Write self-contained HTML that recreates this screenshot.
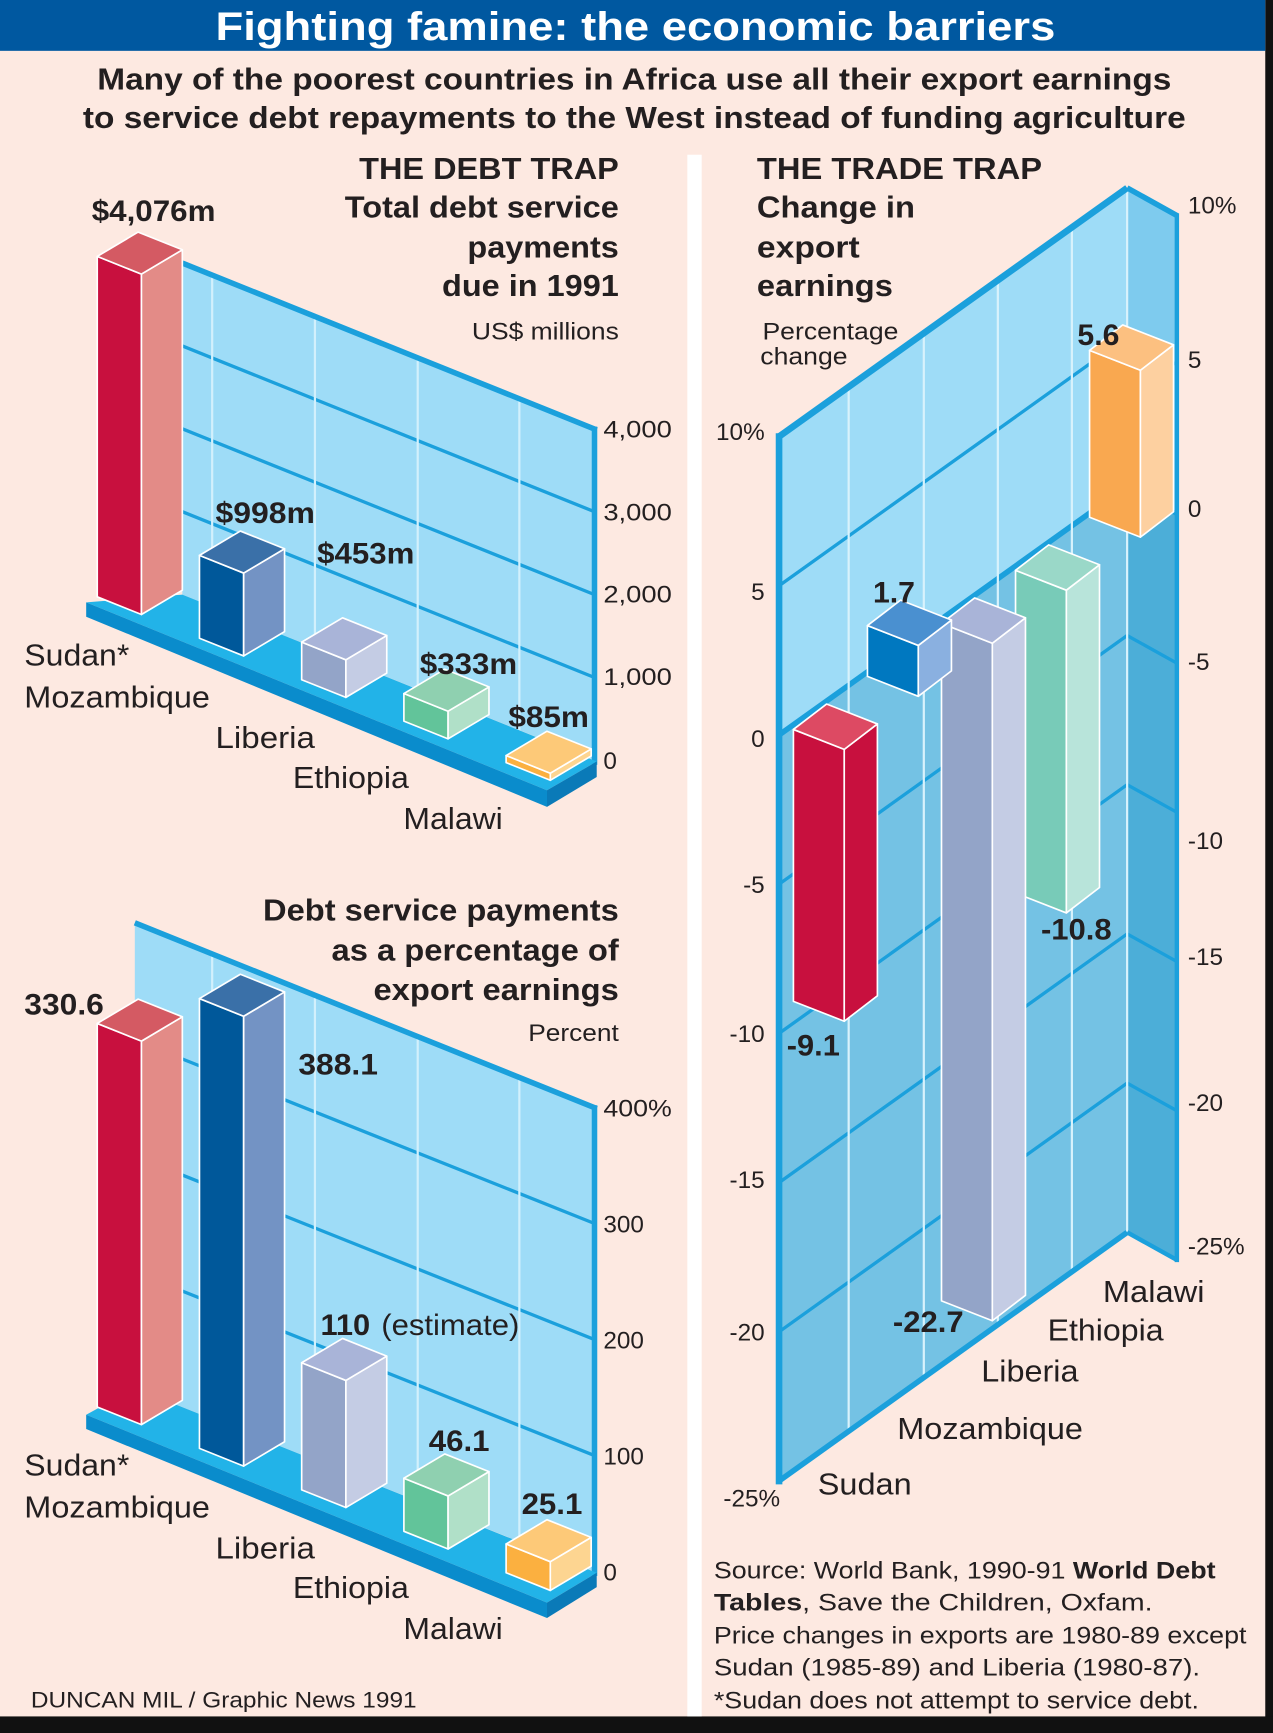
<!DOCTYPE html>
<html><head><meta charset="utf-8"><style>
html,body{margin:0;padding:0;background:#fde9e1;}
svg{display:block;}
text{font-family:"Liberation Sans",Arial,sans-serif;fill:#231f20;}
.b{font-weight:bold;}
</style></head><body>
<svg width="1273" height="1733" viewBox="0 0 1152 1568" preserveAspectRatio="none" xmlns="http://www.w3.org/2000/svg">
<rect x="0" y="0" width="1152" height="1568" fill="#fde9e1"/>
<!-- frame -->
<rect x="1145" y="0" width="7" height="1568" fill="#111"/>
<rect x="0" y="1553" width="1152" height="15" fill="#111"/>
<rect x="0" y="0" width="1145" height="46" fill="#0058a0"/>
<text x="575" y="36" text-anchor="middle" class="b" font-size="36" style="fill:#fff" textLength="760" lengthAdjust="spacingAndGlyphs">Fighting famine: the economic barriers</text>
<text x="88" y="81" class="b" font-size="28" textLength="972" lengthAdjust="spacingAndGlyphs">Many of the poorest countries in Africa use all their export earnings</text>
<text x="75" y="116" class="b" font-size="28" textLength="998" lengthAdjust="spacingAndGlyphs">to service debt repayments to the West instead of funding agriculture</text>
<rect x="622" y="140" width="13" height="1413" fill="#fff"/>

<!-- ===== DEBT TRAP chart ===== -->
<polygon points="165,238 538,388 538,688 165,538" fill="#9edcf7"/>
<g stroke="#1ba0dc" stroke-width="3">
<line x1="165" y1="313" x2="538" y2="463"/>
<line x1="165" y1="388" x2="538" y2="538"/>
<line x1="165" y1="463" x2="538" y2="613"/>
</g>
<g stroke="#d2f0fc" stroke-width="2">
<line x1="192" y1="249" x2="192" y2="549"/>
<line x1="285" y1="286" x2="285" y2="586"/>
<line x1="378" y1="324" x2="378" y2="624"/>
<line x1="470" y1="361" x2="470" y2="661"/>
</g>
<line x1="165" y1="238" x2="540" y2="389" stroke="#1ba0dc" stroke-width="5"/>
<line x1="538" y1="386" x2="538" y2="692" stroke="#1ba0dc" stroke-width="5"/>
<polygon points="165,538 540,689 495,715 78,545" fill="#22b3e8"/>
<polygon points="78,545 495,715 495,730 78,558" fill="#0a8ccc"/>
<polygon points="495,715 540,689 540,703 495,730" fill="#0a7ab8"/>
<g stroke="#fff" stroke-width="1.5" stroke-linejoin="round">
<polygon points="88,232 128,248 128,556 88,540" fill="#c8103e"/>
<polygon points="128,248 165,226 165,534 128,556" fill="#e38b87"/>
<polygon points="88,232 128,248 165,226 125,210" fill="#d45a63"/>
<polygon points="180.5,502.5 220.5,518.5 220.5,593.5 180.5,577.5" fill="#00589a"/>
<polygon points="220.5,518.5 257.5,496.5 257.5,571.5 220.5,593.5" fill="#7393c4"/>
<polygon points="180.5,502.5 220.5,518.5 257.5,496.5 217.5,480.5" fill="#3a70a8"/>
<polygon points="273,581 313,597 313,631 273,615" fill="#93a4c8"/>
<polygon points="313,597 350,575 350,609 313,631" fill="#c4cce4"/>
<polygon points="273,581 313,597 350,575 310,559" fill="#a9b4d8"/>
<polygon points="365.5,627.5 405.5,643.5 405.5,668.5 365.5,652.5" fill="#62c49a"/>
<polygon points="405.5,643.5 442.5,621.5 442.5,646.5 405.5,668.5" fill="#b0e0c8"/>
<polygon points="365.5,627.5 405.5,643.5 442.5,621.5 402.5,605.5" fill="#8fd0b0"/>
<polygon points="458,683.6 498,699.6 498,706 458,690" fill="#fbb040"/>
<polygon points="498,699.6 535,677.6 535,684 498,706" fill="#fdd591"/>
<polygon points="458,683.6 498,699.6 535,677.6 495,661.6" fill="#fdc978"/>
</g>
<g font-size="22">
<text x="546" y="396" textLength="62" lengthAdjust="spacingAndGlyphs">4,000</text>
<text x="546" y="471" textLength="62" lengthAdjust="spacingAndGlyphs">3,000</text>
<text x="546" y="545" textLength="62" lengthAdjust="spacingAndGlyphs">2,000</text>
<text x="546" y="620" textLength="62" lengthAdjust="spacingAndGlyphs">1,000</text>
<text x="546" y="696">0</text>
</g>
<g class="b" font-size="27">
<text x="83" y="200" textLength="112" lengthAdjust="spacingAndGlyphs">$4,076m</text>
<text x="195" y="473" textLength="90" lengthAdjust="spacingAndGlyphs">$998m</text>
<text x="287" y="510" textLength="88" lengthAdjust="spacingAndGlyphs">$453m</text>
<text x="380" y="610" textLength="88" lengthAdjust="spacingAndGlyphs">$333m</text>
<text x="460" y="658" textLength="73" lengthAdjust="spacingAndGlyphs">$85m</text>
</g>
<g font-size="28">
<text x="22" y="602" textLength="95" lengthAdjust="spacingAndGlyphs">Sudan*</text>
<text x="22" y="640" textLength="168" lengthAdjust="spacingAndGlyphs">Mozambique</text>
<text x="195" y="677" textLength="90" lengthAdjust="spacingAndGlyphs">Liberia</text>
<text x="265" y="713" textLength="105" lengthAdjust="spacingAndGlyphs">Ethiopia</text>
<text x="365" y="750" textLength="90" lengthAdjust="spacingAndGlyphs">Malawi</text>
</g>
<g class="b" font-size="28">
<text x="325" y="162" textLength="235" lengthAdjust="spacingAndGlyphs">THE DEBT TRAP</text>
<text x="312" y="197" textLength="248" lengthAdjust="spacingAndGlyphs">Total debt service</text>
<text x="423" y="233" textLength="137" lengthAdjust="spacingAndGlyphs">payments</text>
<text x="400" y="268" textLength="160" lengthAdjust="spacingAndGlyphs">due in 1991</text>
</g>
<text x="427" y="307" font-size="22" textLength="133" lengthAdjust="spacingAndGlyphs">US$ millions</text>

<!-- ===== PERCENT chart ===== -->
<polygon points="122,835 538,1002 538,1422 122,1256" fill="#9edcf7"/>
<g stroke="#1ba0dc" stroke-width="3">
<line x1="122" y1="941" x2="538" y2="1107"/>
<line x1="122" y1="1046" x2="538" y2="1212"/>
<line x1="122" y1="1151" x2="538" y2="1317"/>
</g>
<g stroke="#d2f0fc" stroke-width="2">
<line x1="192" y1="863" x2="192" y2="1284"/>
<line x1="285" y1="900" x2="285" y2="1321"/>
<line x1="378" y1="938" x2="378" y2="1359"/>
<line x1="470" y1="975" x2="470" y2="1396"/>
</g>
<line x1="122" y1="835" x2="540" y2="1003" stroke="#1ba0dc" stroke-width="5"/>
<line x1="538" y1="1000" x2="538" y2="1426" stroke="#1ba0dc" stroke-width="5"/>
<polygon points="122,1256 540,1423 495,1450 78,1280" fill="#22b3e8"/>
<polygon points="78,1280 495,1450 495,1464 78,1293" fill="#0a8ccc"/>
<polygon points="495,1450 540,1423 540,1436 495,1464" fill="#0a7ab8"/>
<g stroke="#fff" stroke-width="1.5" stroke-linejoin="round">
<polygon points="88,926 128,942 128,1289 88,1273" fill="#c8103e"/>
<polygon points="128,942 165,920 165,1267 128,1289" fill="#e38b87"/>
<polygon points="88,926 128,942 165,920 125,904" fill="#d45a63"/>
<polygon points="180.5,903.5 220.5,919.5 220.5,1326.5 180.5,1310.5" fill="#00589a"/>
<polygon points="220.5,919.5 257.5,897.5 257.5,1304.5 220.5,1326.5" fill="#7393c4"/>
<polygon points="180.5,903.5 220.5,919.5 257.5,897.5 217.5,881.5" fill="#3a70a8"/>
<polygon points="273,1233 313,1249 313,1364 273,1348" fill="#93a4c8"/>
<polygon points="313,1249 350,1227 350,1342 313,1364" fill="#c4cce4"/>
<polygon points="273,1233 313,1249 350,1227 310,1211" fill="#a9b4d8"/>
<polygon points="365.5,1337.5 405.5,1353.5 405.5,1401.5 365.5,1385.5" fill="#62c49a"/>
<polygon points="405.5,1353.5 442.5,1331.5 442.5,1379.5 405.5,1401.5" fill="#b0e0c8"/>
<polygon points="365.5,1337.5 405.5,1353.5 442.5,1331.5 402.5,1315.5" fill="#8fd0b0"/>
<polygon points="458,1397 498,1413 498,1439 458,1423" fill="#fbb040"/>
<polygon points="498,1413 535,1391 535,1417 498,1439" fill="#fdd591"/>
<polygon points="458,1397 498,1413 535,1391 495,1375" fill="#fdc978"/>
</g>
<g font-size="22">
<text x="546" y="1010" textLength="62" lengthAdjust="spacingAndGlyphs">400%</text>
<text x="546" y="1115">300</text>
<text x="546" y="1220">200</text>
<text x="546" y="1325">100</text>
<text x="546" y="1430">0</text>
</g>
<g class="b" font-size="27">
<text x="22" y="918" textLength="72" lengthAdjust="spacingAndGlyphs">330.6</text>
<text x="270" y="972" textLength="72" lengthAdjust="spacingAndGlyphs">388.1</text>
<text x="290" y="1208" textLength="45" lengthAdjust="spacingAndGlyphs">110</text>
<text x="388" y="1313" textLength="55" lengthAdjust="spacingAndGlyphs">46.1</text>
<text x="472" y="1370" textLength="55" lengthAdjust="spacingAndGlyphs">25.1</text>
</g>
<text x="345" y="1208" font-size="27" textLength="125" lengthAdjust="spacingAndGlyphs">(estimate)</text>
<g font-size="28">
<text x="22" y="1335" textLength="95" lengthAdjust="spacingAndGlyphs">Sudan*</text>
<text x="22" y="1373" textLength="168" lengthAdjust="spacingAndGlyphs">Mozambique</text>
<text x="195" y="1410" textLength="90" lengthAdjust="spacingAndGlyphs">Liberia</text>
<text x="265" y="1446" textLength="105" lengthAdjust="spacingAndGlyphs">Ethiopia</text>
<text x="365" y="1483" textLength="90" lengthAdjust="spacingAndGlyphs">Malawi</text>
</g>
<g class="b" font-size="28">
<text x="238" y="833" textLength="322" lengthAdjust="spacingAndGlyphs">Debt service payments</text>
<text x="300" y="869" textLength="260" lengthAdjust="spacingAndGlyphs">as a percentage of</text>
<text x="338" y="905" textLength="222" lengthAdjust="spacingAndGlyphs">export earnings</text>
</g>
<text x="478" y="942" font-size="22" textLength="82" lengthAdjust="spacingAndGlyphs">Percent</text>
<text x="28" y="1545" font-size="20" textLength="349" lengthAdjust="spacingAndGlyphs">DUNCAN MIL / Graphic News 1991</text>

<!-- ===== TRADE TRAP chart ===== -->
<polygon points="705,395 1020,170 1020,440 705,665" fill="#9edcf7"/>
<polygon points="705,665 1020,440 1020,1115 705,1340" fill="#74c2e4"/>
<polygon points="1020,170 1065,195 1065,465 1020,440" fill="#7ecbee"/>
<polygon points="1020,440 1065,465 1065,1140 1020,1115" fill="#4caed8"/>
<g stroke="#1ba0dc" stroke-width="3">
<line x1="705" y1="530" x2="1020" y2="305"/>
<line x1="705" y1="800" x2="1020" y2="575"/>
<line x1="705" y1="935" x2="1020" y2="710"/>
<line x1="705" y1="1070" x2="1020" y2="845"/>
<line x1="705" y1="1205" x2="1020" y2="980"/>
<line x1="1020" y1="305" x2="1065" y2="330"/>
<line x1="1020" y1="575" x2="1065" y2="600"/>
<line x1="1020" y1="710" x2="1065" y2="735"/>
<line x1="1020" y1="845" x2="1065" y2="870"/>
<line x1="1020" y1="980" x2="1065" y2="1005"/>
</g>
<line x1="705" y1="665" x2="1020" y2="440" stroke="#1ba0dc" stroke-width="5"/>
<line x1="1020" y1="440" x2="1065" y2="465" stroke="#1ba0dc" stroke-width="4"/>
<g stroke="#d8f2fc" stroke-width="2">
<line x1="768" y1="350" x2="768" y2="1295"/>
<line x1="836" y1="302" x2="836" y2="1247"/>
<line x1="903" y1="254" x2="903" y2="1199"/>
<line x1="970" y1="206" x2="970" y2="1151"/>
<line x1="1020" y1="170" x2="1020" y2="1115"/>
</g>
<line x1="705" y1="392" x2="705" y2="1343" stroke="#1ba0dc" stroke-width="6"/>
<line x1="705" y1="395" x2="1020" y2="170" stroke="#1ba0dc" stroke-width="6"/>
<line x1="1020" y1="170" x2="1065" y2="195" stroke="#1ba0dc" stroke-width="5"/>
<line x1="1065" y1="193" x2="1065" y2="1142" stroke="#1ba0dc" stroke-width="4"/>
<line x1="705" y1="1340" x2="1020" y2="1115" stroke="#1ba0dc" stroke-width="5"/>
<line x1="1020" y1="1115" x2="1065" y2="1140" stroke="#1ba0dc" stroke-width="4"/>
<g stroke="#fff" stroke-width="1.5" stroke-linejoin="round">
<polygon points="986,317 1032,335 1032,486 986,468" fill="#f9a850"/>
<polygon points="1032,335 1062,312 1062,463 1032,486" fill="#fdd0a0"/>
<polygon points="986,317 1032,335 1062,312 1016,294" fill="#fcc080"/>
<polygon points="919,516 965,534 965,826 919,808" fill="#78cbb8"/>
<polygon points="965,534 995,511 995,803 965,826" fill="#b8e4da"/>
<polygon points="919,516 965,534 995,511 949,493" fill="#9ad8c8"/>
<polygon points="852,564 898,582 898,1195 852,1177" fill="#93a4c8"/>
<polygon points="898,582 928,559 928,1172 898,1195" fill="#c4cce4"/>
<polygon points="852,564 898,582 928,559 882,541" fill="#a9b4d8"/>
<polygon points="785,566 831,584 831,630 785,612" fill="#0078c0"/>
<polygon points="831,584 861,561 861,607 831,630" fill="#8ab0e0"/>
<polygon points="785,566 831,584 861,561 815,543" fill="#4a90d0"/>
<polygon points="718,660 764,678 764,924 718,906" fill="#c8103e"/>
<polygon points="764,678 794,655 794,901 764,924" fill="#c8103e"/>
<polygon points="718,660 764,678 794,655 748,637" fill="#dd4a63"/>
</g>
<g font-size="22" text-anchor="end">
<text x="692" y="398">10%</text>
<text x="692" y="543">5</text>
<text x="692" y="676">0</text>
<text x="692" y="808">-5</text>
<text x="692" y="943">-10</text>
<text x="692" y="1075">-15</text>
<text x="692" y="1213">-20</text>
<text x="706" y="1363">-25%</text>
</g>
<g font-size="22">
<text x="1075" y="193">10%</text>
<text x="1075" y="333">5</text>
<text x="1075" y="468">0</text>
<text x="1075" y="606">-5</text>
<text x="1075" y="768">-10</text>
<text x="1075" y="873">-15</text>
<text x="1075" y="1005">-20</text>
<text x="1075" y="1135">-25%</text>
</g>
<g class="b" font-size="27">
<text x="975" y="312" textLength="38" lengthAdjust="spacingAndGlyphs">5.6</text>
<text x="790" y="545" textLength="38" lengthAdjust="spacingAndGlyphs">1.7</text>
<text x="712" y="955" textLength="48" lengthAdjust="spacingAndGlyphs">-9.1</text>
<text x="808" y="1205" textLength="64" lengthAdjust="spacingAndGlyphs">-22.7</text>
<text x="942" y="850" textLength="64" lengthAdjust="spacingAndGlyphs">-10.8</text>
</g>
<g font-size="28">
<text x="998" y="1178" textLength="92" lengthAdjust="spacingAndGlyphs">Malawi</text>
<text x="948" y="1213" textLength="105" lengthAdjust="spacingAndGlyphs">Ethiopia</text>
<text x="888" y="1250" textLength="88" lengthAdjust="spacingAndGlyphs">Liberia</text>
<text x="812" y="1302" textLength="168" lengthAdjust="spacingAndGlyphs">Mozambique</text>
<text x="740" y="1352" textLength="85" lengthAdjust="spacingAndGlyphs">Sudan</text>
</g>
<g class="b" font-size="28">
<text x="685" y="162" textLength="258" lengthAdjust="spacingAndGlyphs">THE TRADE TRAP</text>
<text x="685" y="197" textLength="143" lengthAdjust="spacingAndGlyphs">Change in</text>
<text x="685" y="233" textLength="93" lengthAdjust="spacingAndGlyphs">export</text>
<text x="685" y="268" textLength="123" lengthAdjust="spacingAndGlyphs">earnings</text>
</g>
<text x="690" y="307" font-size="22" textLength="123" lengthAdjust="spacingAndGlyphs">Percentage</text>
<text x="688" y="330" font-size="22" textLength="79" lengthAdjust="spacingAndGlyphs">change</text>
<g font-size="22">
<text x="646" y="1428" textLength="454" lengthAdjust="spacingAndGlyphs">Source: World Bank, 1990-91 <tspan class="b">World Debt</tspan></text>
<text x="646" y="1457" textLength="397" lengthAdjust="spacingAndGlyphs"><tspan class="b">Tables</tspan>, Save the Children, Oxfam.</text>
<text x="646" y="1487" textLength="482" lengthAdjust="spacingAndGlyphs">Price changes in exports are 1980-89 except</text>
<text x="646" y="1516" textLength="440" lengthAdjust="spacingAndGlyphs">Sudan (1985-89) and Liberia (1980-87).</text>
<text x="646" y="1546" textLength="439" lengthAdjust="spacingAndGlyphs">*Sudan does not attempt to service debt.</text>
</g>
</svg>
</body></html>
